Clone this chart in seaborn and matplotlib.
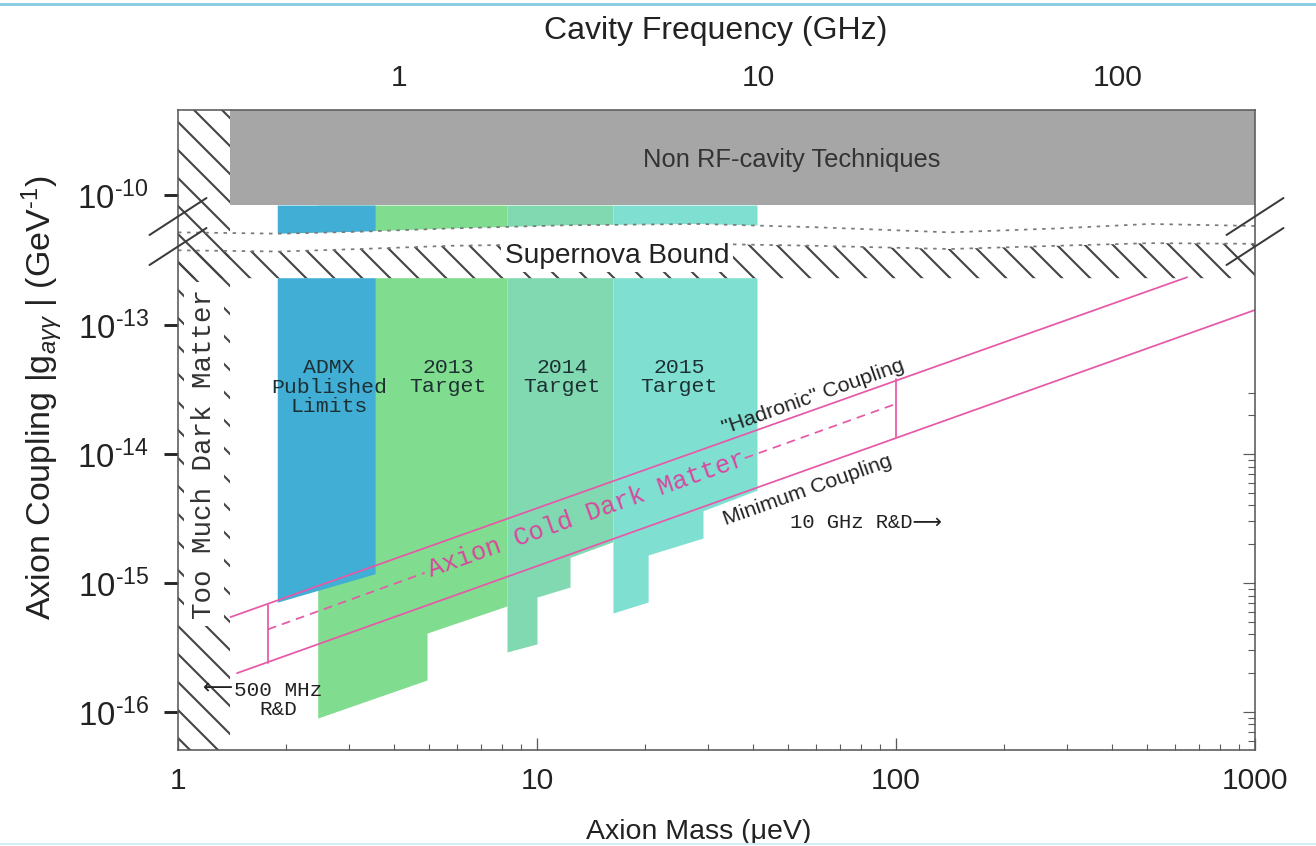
import numpy as np
import matplotlib
matplotlib.use("Agg")
import matplotlib.pyplot as plt
import seaborn as sns
from matplotlib.lines import Line2D
from matplotlib.ticker import FixedLocator, FuncFormatter, NullFormatter, LogLocator, NullLocator

DPI = 168
W_PX, H_PX = 1316, 846


def px(p):
    """Length in output pixels -> points."""
    return p * 72.0 / DPI


# ---------------- data ----------------
mass_range = [1.0, 1000.0]              # axion mass, micro-eV
coupling_range = [5.07e-17, 4.56e-10]   # |g_agg|, GeV^-1

too_much_dm_mass = [1.0, 1.40]
non_rf_mass = [1.40, 1000.0]
non_rf_floor = 8.35e-11
search_ceiling = 8.35e-11

supernova_mass = [1.0, 1.4, 1.92, 3.2, 5.72, 12.0, 28.4, 60.0, 141.0, 280.0, 509.0, 1000.0]
supernova_upper = [5.13e-11, 5.07e-11, 5.01e-11, 5.19e-11, 5.50e-11, 5.82e-11,
                   5.96e-11, 5.62e-11, 5.13e-11, 5.50e-11, 5.96e-11, 5.75e-11]
supernova_lower = [3.80e-13, 3.76e-13, 3.72e-13, 3.89e-13, 4.12e-13, 4.25e-13,
                   4.27e-13, 4.12e-13, 3.89e-13, 4.12e-13, 4.32e-13, 4.27e-13]
supernova_hatch_floor = 2.31e-13

admx_mass = [1.89, 3.54]
admx_floor = [7.1e-16, 1.18e-15]
t2013_mass = [2.45, 4.94, 4.94, 8.25]
t2013_floor = [8.97e-17, 1.77e-16, 4.09e-16, 6.64e-16]
t2014_mass = [8.25, 10.0, 10.0, 12.36, 12.36, 16.28]
t2014_floor = [2.92e-16, 3.37e-16, 7.78e-16, 9.31e-16, 1.58e-15, 2.09e-15]
t2015_mass = [16.28, 20.4, 20.4, 29.0, 29.0, 41.0]
t2015_floor = [5.85e-16, 7.13e-16, 1.65e-15, 2.23e-15, 3.63e-15, 5.25e-15]

hadronic_mass = [1.40, 647.0]
hadronic_g = [5.44e-16, 2.35e-13]
minimum_mass = [1.46, 1000.0]
minimum_g = [2.0e-16, 1.31e-13]
cdm_mid_mass_a = [1.78, 4.87]
cdm_mid_g_a = [4.37e-16, 1.20e-15]
cdm_mid_mass_b = [37.9, 100.0]
cdm_mid_g_b = [9.3e-15, 2.45e-14]
band_edge_mass = [1.78, 100.0]
band_edge_lo = [2.4e-16, 1.35e-14]
band_edge_hi = [6.8e-16, 3.8e-14]

freq_ticks = [1, 10, 100]               # GHz
mass_ticks = [1, 10, 100, 1000]
coupling_ticks = [1e-16, 1e-15, 1e-14, 1e-13, 1e-10]
GHZ_PER_UEV = 0.2418

# ---------------- colours ----------------
C_ADMX = "#41aed6"
C_2013 = "#80dc8e"
C_2014 = "#80d9b0"
C_2015 = "#7fe0d2"
C_GRAY = "#a6a6a6"
C_PINK = "#e659a8"
C_PINK_TXT = "#d8479e"
C_HATCH = "#444444"
C_TXT = "#222222"

sns.set_theme(style="white")
plt.rcParams.update({
    "font.family": ["Liberation Sans", "DejaVu Sans"],
    "mathtext.fontset": "custom",
    "mathtext.rm": "Liberation Sans",
    "mathtext.it": "Liberation Sans:italic",
    "mathtext.bf": "Liberation Sans:bold",
    "hatch.linewidth": 0.9,
    "hatch.color": C_HATCH,
    "axes.unicode_minus": False,
})
MONO = ["Liberation Mono", "DejaVu Sans"]
HATCH = "\\\\"

# ---------------- broken log scale for the coupling axis ----------------
B1, B2, EPS = -12.326, -10.333, 0.001


def fwd(g):
    L = np.log10(np.clip(np.asarray(g, dtype=float), 1e-300, None))
    return np.where(L <= B1, L,
                    np.where(L >= B2, L - (B2 - B1) * (1 - EPS), B1 + EPS * (L - B1)))


def inv(t):
    t = np.asarray(t, dtype=float)
    tb = B1 + EPS * (B2 - B1)
    L = np.where(t <= B1, t,
                 np.where(t >= tb, t + (B2 - B1) * (1 - EPS), B1 + (t - B1) / EPS))
    return 10.0 ** np.clip(L, -300, 300)


def decade_label(v, pos):
    exp = int(round(np.log10(v)))
    return rf"$10^{{\text{{-}}{abs(exp)}}}$"


fig = plt.figure(figsize=(W_PX / DPI, H_PX / DPI), dpi=DPI)
fig.patch.set_facecolor("white")
ax = fig.add_axes([178 / W_PX, 1 - 750 / H_PX, 1077 / W_PX, 640 / H_PX])
ax.set_xscale("log")
ax.set_yscale("function", functions=(fwd, inv))
ax.set_xlim(mass_range)
ax.set_ylim(coupling_range)
ax.set_axisbelow(False)

# search regions
ax.fill_between(t2013_mass, t2013_floor, search_ceiling, color=C_2013, lw=0, zorder=1.0)
ax.fill_between(admx_mass, admx_floor, search_ceiling, color=C_ADMX, lw=0, zorder=1.1)
ax.fill_between(t2014_mass, t2014_floor, search_ceiling, color=C_2014, lw=0, zorder=1.2)
ax.fill_between(t2015_mass, t2015_floor, search_ceiling, color=C_2015, lw=0, zorder=1.3)

# supernova bound band spanning the axis break
ax.fill_between(supernova_mass, supernova_hatch_floor, supernova_upper,
                facecolor="white", edgecolor="none", lw=0, zorder=2.0)
ax.fill_between(supernova_mass, supernova_hatch_floor, supernova_lower,
                facecolor="none", edgecolor=C_HATCH, hatch=HATCH, lw=0, zorder=2.1)

# non RF-cavity region
ax.fill_between(non_rf_mass, non_rf_floor, coupling_range[1],
                color=C_GRAY, lw=0, zorder=2.2)

# too much dark matter
ax.fill_between(too_much_dm_mass, coupling_range[0], coupling_range[1],
                facecolor="none", edgecolor=C_HATCH, hatch=HATCH, lw=0, zorder=2.3)

# supernova dotted edges
for edge in (supernova_upper, supernova_lower):
    ax.plot(supernova_mass, edge, color="#7a7a7a", lw=0.75,
            linestyle=(0, (2.0, 3.2)), zorder=2.4)

# axion coupling band
line_kw = dict(color=C_PINK, lw=0.75, zorder=3, legend=False)
sns.lineplot(x=hadronic_mass, y=hadronic_g, ax=ax, **line_kw)
sns.lineplot(x=minimum_mass, y=minimum_g, ax=ax, **line_kw)
for mm, gg in ((cdm_mid_mass_a, cdm_mid_g_a), (cdm_mid_mass_b, cdm_mid_g_b)):
    sns.lineplot(x=mm, y=gg, ax=ax, dashes=False, linestyle=(0, (5, 3.5)), **line_kw)
for m_edge, lo, hi in zip(band_edge_mass, band_edge_lo, band_edge_hi):
    ax.plot([m_edge, m_edge], [lo, hi], color=C_PINK, lw=0.75, zorder=3)


def screen_angle(m0, g0, m1, g1):
    p0 = ax.transData.transform((m0, g0))
    p1 = ax.transData.transform((m1, g1))
    return np.degrees(np.arctan2(p1[1] - p0[1], p1[0] - p0[0]))


band_angle = screen_angle(hadronic_mass[0], hadronic_g[0], hadronic_mass[1], hadronic_g[1])

# ---------------- labels inside the plot ----------------
ax.text(51.3, 1.87e-10, "Non RF-cavity Techniques", ha="center", va="center",
        fontsize=px(25.5), color="#333333", zorder=4)
ax.text(16.7, 3.43e-13, "Supernova Bound", ha="center", va="center",
        fontsize=px(28), color=C_TXT, zorder=4,
        bbox=dict(facecolor="white", edgecolor="none", pad=1.5))
ax.text(1.181, 1e-14, "Too Much Dark Matter", ha="center", va="center", rotation=90,
        family=MONO, fontsize=px(27.5), color="#333333", zorder=4,
        bbox=dict(facecolor="white", edgecolor="none", pad=3))

target_kw = dict(ha="center", va="center", family=MONO, fontsize=px(21.5),
                 color="#1d3033", zorder=4, linespacing=1.02)
ax.text(2.63, 3.30e-14, "ADMX\nPublished\nLimits", **target_kw)
ax.text(5.65, 3.95e-14, "2013\nTarget", **target_kw)
ax.text(11.74, 3.95e-14, "2014\nTarget", **target_kw)
ax.text(24.9, 3.95e-14, "2015\nTarget", **target_kw)

ax.text(13.8, 3.39e-15, "Axion Cold Dark Matter", ha="center", va="center",
        rotation=band_angle, rotation_mode="anchor", family=MONO,
        fontsize=px(25.5), color=C_PINK_TXT, zorder=4)
ax.text(58.7, 2.77e-14, "\"Hadronic\" Coupling", ha="center", va="center",
        rotation=band_angle, rotation_mode="anchor", fontsize=px(21.5),
        color=C_TXT, zorder=4)
ax.text(56.9, 5.26e-15, "Minimum Coupling", ha="center", va="center",
        rotation=band_angle, rotation_mode="anchor", fontsize=px(21.5),
        color=C_TXT, zorder=4)
ax.text(82.5, 2.97e-15, "10 GHz R&D\u27f6", ha="center", va="center",
        family=MONO, fontsize=px(20.5), color=C_TXT, zorder=4)
ax.text(1.90, 1.24e-16, "500 MHz\nR&D", ha="center", va="center",
        family=MONO, fontsize=px(21), color=C_TXT, zorder=4, linespacing=1.0)
ax.text(1.423, 1.53e-16, "\u27f5", ha="right", va="center",
        family=["DejaVu Sans"], fontsize=px(21), color=C_TXT, zorder=4)

# ---------------- axes, ticks, labels ----------------
for s in ax.spines.values():
    s.set_color("#5a5a5a")
    s.set_linewidth(px(1.6))
    s.set_zorder(6)

ax.xaxis.set_major_locator(FixedLocator(mass_ticks))
ax.xaxis.set_major_formatter(FuncFormatter(lambda v, p: f"{v:g}"))
ax.xaxis.set_minor_locator(LogLocator(base=10, subs=np.arange(2, 10)))
ax.xaxis.set_minor_formatter(NullFormatter())
ax.tick_params(axis="x", which="major", direction="in", length=px(12), width=px(1.3),
               color="#5a5a5a", bottom=True, top=False, labelsize=px(30),
               labelcolor=C_TXT, pad=px(17))
ax.tick_params(axis="x", which="minor", direction="in", length=px(6), width=px(1.1),
               color="#5a5a5a", bottom=True, top=False)

ax.yaxis.set_major_locator(FixedLocator(coupling_ticks))
ax.yaxis.set_major_formatter(FuncFormatter(decade_label))
ax.yaxis.set_minor_locator(NullLocator())
ax.tick_params(axis="y", which="both", left=False, right=False, labelleft=True,
               labelsize=px(33), labelcolor=C_TXT, pad=px(15))

# right-hand ticks on a twin sharing the same broken scale
ax2 = ax.twinx()
ax2.set_yscale("function", functions=(fwd, inv))
ax2.set_ylim(coupling_range)
right_major = [1e-16, 1e-15, 1e-14]
right_minor = [k * 10.0 ** e for e in (-17, -16, -15, -14) for k in range(2, 10)
               if coupling_range[0] <= k * 10.0 ** e <= 3e-14]
ax2.yaxis.set_major_locator(FixedLocator(right_major))
ax2.yaxis.set_minor_locator(FixedLocator(right_minor))
ax2.yaxis.set_major_formatter(NullFormatter())
ax2.yaxis.set_minor_formatter(NullFormatter())
ax2.tick_params(axis="y", which="major", direction="in", length=px(12), width=px(1.2),
                color="#5a5a5a")
ax2.tick_params(axis="y", which="minor", direction="in", length=px(7), width=px(1.1),
                color="#5a5a5a")
for s in ax2.spines.values():
    s.set_visible(False)
ax2.grid(False)

# top axis: cavity frequency
sec = ax.secondary_xaxis("top", functions=(lambda m: m * GHZ_PER_UEV,
                                           lambda f: f / GHZ_PER_UEV))
sec.xaxis.set_major_locator(FixedLocator(freq_ticks))
sec.xaxis.set_major_formatter(FuncFormatter(lambda v, p: f"{v:g}"))
sec.xaxis.set_minor_locator(NullLocator())
sec.tick_params(axis="x", which="both", length=0, labelsize=px(30),
                labelcolor=C_TXT, pad=px(18))
sec.spines["top"].set_visible(False)
fig.text(716 / W_PX, 1 - 31 / H_PX, "Cavity Frequency (GHz)", ha="center", va="center",
         fontsize=px(32), color=C_TXT)

ax.set_xlabel("Axion Mass (\u03bceV)", fontsize=px(28.5), color=C_TXT)
ax.xaxis.set_label_coords(0.4837, -0.108)
ax.set_ylabel(r"Axion Coupling |g$_{a\gamma\gamma}$ | (GeV$^{\text{-}1}$)",
              fontsize=px(34), color=C_TXT)
ax.yaxis.set_label_coords(-0.105, 0.55)
ax.grid(False)

# axis-break marks on both sides
dx, dy = 28.5 / 1077, 18.5 / 640
for x0 in (0.0, 1.0):
    for y0 in (0.8336, 0.7867):
        ax.add_line(Line2D([x0 - dx, x0 + dx], [y0 - dy, y0 + dy], transform=ax.transAxes,
                           color="#3a3a3a", lw=px(2.0), clip_on=False, zorder=7))

# slide rules at top and bottom edges
fig.add_artist(Line2D([0, 1], [1 - 4 / H_PX] * 2, color="#8ccfe2", lw=px(3)))
fig.add_artist(Line2D([0, 1], [2 / H_PX] * 2, color="#d3eef5", lw=px(2)))

fig.savefig("out.png", dpi=DPI, facecolor="white")
